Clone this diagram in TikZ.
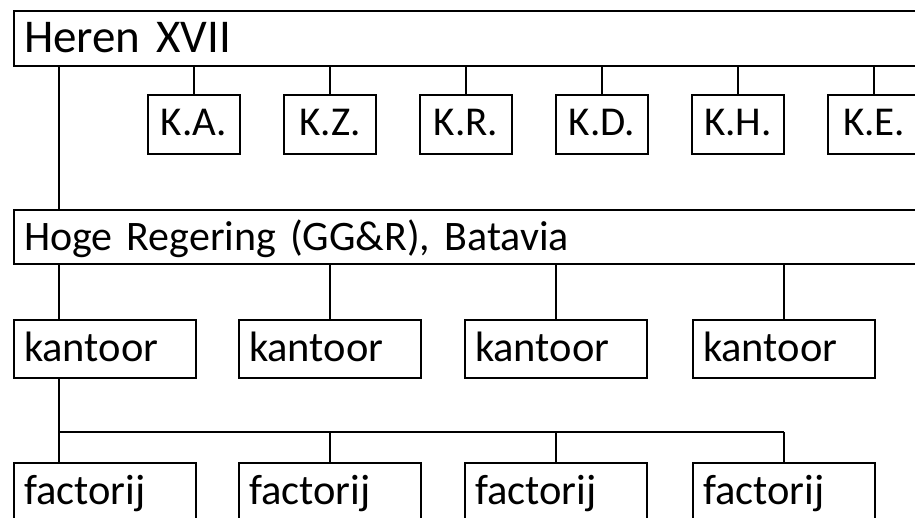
\documentclass[tikz,border=0pt]{standalone}
\usepackage{fontspec}
\setmainfont{Carlito}
\begin{document}
\begin{tikzpicture}[x=1pt,y=-1pt,
  every node/.style={font=\fontsize{41}{49}\selectfont},
  link/.style={draw=black, line width=2pt},
  widebox/.style={draw=black, line width=2pt, anchor=north west, inner xsep=10pt, inner ysep=0pt,
    text width=897pt, align=left, text height=41pt, text depth=14pt},
  kbox/.style={draw=black, line width=2pt, anchor=north, inner xsep=4pt, inner ysep=0pt,
    text width=84pt, align=center, text height=41pt, text depth=18pt},
  unitbox/.style={draw=black, line width=2pt, anchor=north west, inner xsep=10pt, inner ysep=0pt,
    text width=162pt, align=left, text height=41pt, text depth=17pt, font=\fontsize{42.5}{50}\selectfont},
  factbox/.style={draw=black, line width=2pt, anchor=north west, inner xsep=10pt, inner ysep=0pt,
    text width=162pt, align=left, text height=41pt, text depth=30pt, font=\fontsize{42.5}{50}\selectfont}]
\useasboundingbox (0,0) rectangle (915,518);
\clip (0,0) rectangle (915,518);
\fill[white] (0,0) rectangle (915,518);

\node[widebox, font=\fontsize{47}{56}\selectfont, text height=42pt, text depth=13pt] (heren) at (13,10) {Heren XVII};
\node[widebox, font=\fontsize{42}{50}\selectfont, text depth=13pt] (hoge) at (13,209) {Hoge Regering (GG\&R), Batavia};

\node[kbox] (ka) at (194,94) {K.A.};
\node[kbox] (kz) at (330,94) {K.Z.};
\node[kbox] (kr) at (466,94) {K.R.};
\node[kbox] (kd) at (602,94) {K.D.};
\node[kbox] (kh) at (738,94) {K.H.};
\node[kbox] (ke) at (874,94) {K.E.};

\foreach \k in {ka,kz,kr,kd,kh,ke}
  \draw[link] (\k.north) -- (\k.north |- heren.south);

\coordinate (spine) at (59,0);

\node[unitbox] (k1) at (13,319) {kantoor};
\node[unitbox] (k2) at (238,319) {kantoor};
\node[unitbox] (k3) at (464,319) {kantoor};
\node[unitbox] (k4) at (692,319) {kantoor};

\node[factbox] (f1) at (13,462) {factorij};
\node[factbox] (f2) at (238,462) {factorij};
\node[factbox] (f3) at (464,462) {factorij};
\node[factbox] (f4) at (692,462) {factorij};

\draw[link] (heren.south -| spine) -- (hoge.north -| spine);
\draw[link] (hoge.south -| spine) -- (k1.north -| spine);
\draw[link] (k2.north) -- (k2.north |- hoge.south);
\draw[link] (k3.north) -- (k3.north |- hoge.south);
\draw[link] (k4.north) -- (k4.north |- hoge.south);

\coordinate (bus) at (0,432);
\draw[link] (k1.south -| spine) -- (f1.north -| spine);
\draw[link] (bus -| spine) -- (bus -| k4.north);
\draw[link] (f2.north) -- (f2.north |- bus);
\draw[link] (f3.north) -- (f3.north |- bus);
\draw[link] (f4.north) -- (f4.north |- bus);
\end{tikzpicture}
\end{document}
